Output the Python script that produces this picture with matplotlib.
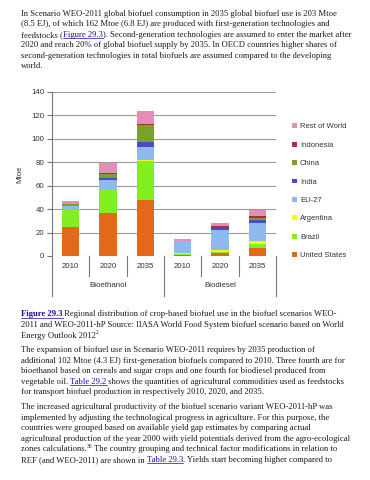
import matplotlib
matplotlib.use("Agg")
import matplotlib.pyplot as plt
from matplotlib.patches import Patch
from matplotlib.lines import Line2D
import numpy as np

W, H = 370, 480

# chart data (Mtoe)
years = ['2010', '2020', '2035', '2010', '2020', '2035']
groups = ['Bioethanol', 'Biodiesel']
regions = ['United States', 'Brazil', 'Argentina', 'EU-27', 'India', 'China', 'Indonesia', 'Rest of World']
us = [25.0, 36.6, 47.7, 1.0, 2.2, 7.0]
brazil = [14.5, 20.3, 33.5, 0.4, 1.2, 3.6]
argentina = [0.0, 0.5, 0.5, 1.5, 2.0, 2.6]
eu27 = [3.0, 7.5, 11.5, 9.5, 17.0, 15.0]
india = [0.3, 1.2, 4.3, 0.1, 1.2, 2.6]
china = [1.2, 4.0, 14.0, 0.3, 0.6, 1.4]
indonesia = [0.3, 0.5, 0.8, 0.2, 1.3, 2.0]
rest = [2.3, 8.6, 11.0, 1.5, 2.3, 5.0]
colors = ['#e2691a', '#80f020', '#f5f522', '#8eb8ee', '#4b4bc8', '#7aa12a', '#b22a3c', '#e38db8']

serif = 'Liberation Serif'
sans = 'Liberation Sans'
TXT = '#1a1a1a'
LINK = '#1a0dab'
FS = 6.2

fig = plt.figure(figsize=(W / 100, H / 100), dpi=100)
fig.patch.set_facecolor('white')
renderer = fig.canvas.get_renderer()


def fx(x):
    return x / W


def fy(y):
    return 1 - y / H


def seg_width(s, **kw):
    # measure with bars around so spaces count
    t1 = fig.text(0, 0, '|' + s + '|', **kw)
    t2 = fig.text(0, 0, '||', **kw)
    w = t1.get_window_extent(renderer).width - t2.get_window_extent(renderer).width
    t1.remove()
    t2.remove()
    return w


def draw_line(y, segs, x0=21):
    x = x0
    base = y + 2.5
    for s, kind in segs:
        kw = dict(family=serif, fontsize=FS, color=TXT)
        yy = base
        if kind in ('link', 'blink'):
            kw['color'] = LINK
            if kind == 'blink':
                kw['fontweight'] = 'bold'
        if kind == 'sup':
            kw['fontsize'] = FS * 0.65
            yy = base - 3.5
        fig.text(fx(x), fy(yy), s, va='baseline', ha='left', **kw)
        w = seg_width(s, **kw)
        if kind in ('link', 'blink'):
            fig.add_artist(Line2D([fx(x), fx(x + w)], [fy(base + 1.2)] * 2, color=LINK, lw=0.5))
        x += w


def paragraph(y0, lines, step=10.6):
    for i, ln in enumerate(lines):
        if isinstance(ln, str):
            ln = [(ln, 'n')]
        draw_line(y0 + i * step, ln)


paragraph(13, [
    "In Scenario WEO-2011 global biofuel consumption in 2035 global biofuel use is 203 Mtoe",
    "(8.5 EJ), of which 162 Mtoe (6.8 EJ) are produced with first-generation technologies and",
    [("feedstocks (", 'n'), ("Figure 29.3", 'link'),
     ("). Second-generation technologies are assumed to enter the market after", 'n')],
    "2020 and reach 20% of global biofuel supply by 2035. In OECD countries higher shares of",
    "second-generation technologies in total biofuels are assumed compared to the developing",
    "world.",
])

paragraph(314, [
    [("Figure 29.3", 'blink'),
     (" Regional distribution of crop-based biofuel use in the biofuel scenarios WEO-", 'n')],
    "2011 and WEO-2011-hP Source: IIASA World Food System biofuel scenario based on World",
    [("Energy Outlook 2012", 'n'), ("2", 'sup')],
])

paragraph(349.5, [
    "The expansion of biofuel use in Scenario WEO-2011 requires by 2035 production of",
    "additional 102 Mtoe (4.3 EJ) first-generation biofuels compared to 2010. Three fourth are for",
    "bioethanol based on cereals and sugar crops and one fourth for biodiesel produced from",
    [("vegetable oil. ", 'n'), ("Table 29.2", 'link'),
     (" shows the quantities of agricultural commodities used as feedstocks", 'n')],
    "for transport biofuel production in respectively 2010, 2020, and 2035.",
])

paragraph(406.5, [
    "The increased agricultural productivity of the biofuel scenario variant WEO-2011-hP was",
    "implemented by adjusting the technological progress in agriculture. For this purpose, the",
    "countries were grouped based on available yield gap estimates by comparing actual",
    "agricultural production of the year 2000 with yield potentials derived from the agro-ecological",
    [("zones calculations.", 'n'), ("36", 'sup'),
     (" The country grouping and technical factor modifications in relation to", 'n')],
    [("REF (and WEO-2011) are shown in ", 'n'), ("Table 29.3", 'link'),
     (". Yields start becoming higher compared to", 'n')],
])

# chart
ax = fig.add_axes([fx(52), fy(256), fx(276) - fx(52), fy(91.7) - fy(256)])
series = [us, brazil, argentina, eu27, india, china, indonesia, rest]
x = np.arange(len(years))
bottom = np.zeros(len(years))
handles = []
for name, vals, c in zip(regions, series, colors):
    ax.bar(x, vals, width=0.47, bottom=bottom, color=c, linewidth=0, zorder=3)
    bottom += np.array(vals)
    handles.append(Patch(facecolor=c, label=name))

ax.set_xlim(-0.5, len(years) - 0.5)
ax.set_ylim(0, 140)
ax.set_yticks(np.arange(0, 141, 20))
ax.yaxis.grid(True, color='#9a9a9a', lw=0.8, zorder=0)
ax.set_xticks([])
for s in ['top', 'right', 'bottom']:
    ax.spines[s].set_visible(False)
ax.spines['left'].set_color('#777777')
ax.spines['left'].set_linewidth(0.8)
ax.tick_params(axis='y', length=3.5, width=0.8, color='#777777', labelsize=5.7, labelcolor='#333333', pad=2)
for lab in ax.get_yticklabels():
    lab.set_family(sans)
ax.set_ylabel('Mtoe', family=sans, fontsize=5.7, color='#333333', labelpad=6)

# category axis below the plot
trans = ax.get_xaxis_transform()
axh = 256 - 91.7
short = -20 / axh
long_ = -40 / axh
for i, yr in enumerate(years):
    ax.text(i, -10.7 / axh, yr, transform=trans, ha='center', va='center',
            family=sans, fontsize=5.7, color='#333333')
for b in [0.5, 1.5, 3.5, 4.5]:
    ax.plot([b, b], [0, short], transform=trans, color='#777777', lw=0.8, clip_on=False)
for b in [-0.5, 2.5, 5.5]:
    ax.plot([b, b], [0, long_], transform=trans, color='#777777', lw=0.8, clip_on=False)
for gi, g in enumerate(groups):
    ax.text(gi * 3 + 1, -29.5 / axh, g, transform=trans, ha='center', va='center',
            family=sans, fontsize=5.7, color='#333333')

leg = ax.legend(handles=handles[::-1], loc='center left',
                bbox_to_anchor=(fx(292), fy(191.3)), bbox_transform=fig.transFigure,
                frameon=False, prop={'family': sans, 'size': 5.5},
                handlelength=0.6, handleheight=0.6, handletextpad=0.45,
                labelspacing=1.48, borderpad=0, borderaxespad=0)
for t in leg.get_texts():
    t.set_color('#333333')

fig.savefig('out.png', dpi=100, facecolor='white')
